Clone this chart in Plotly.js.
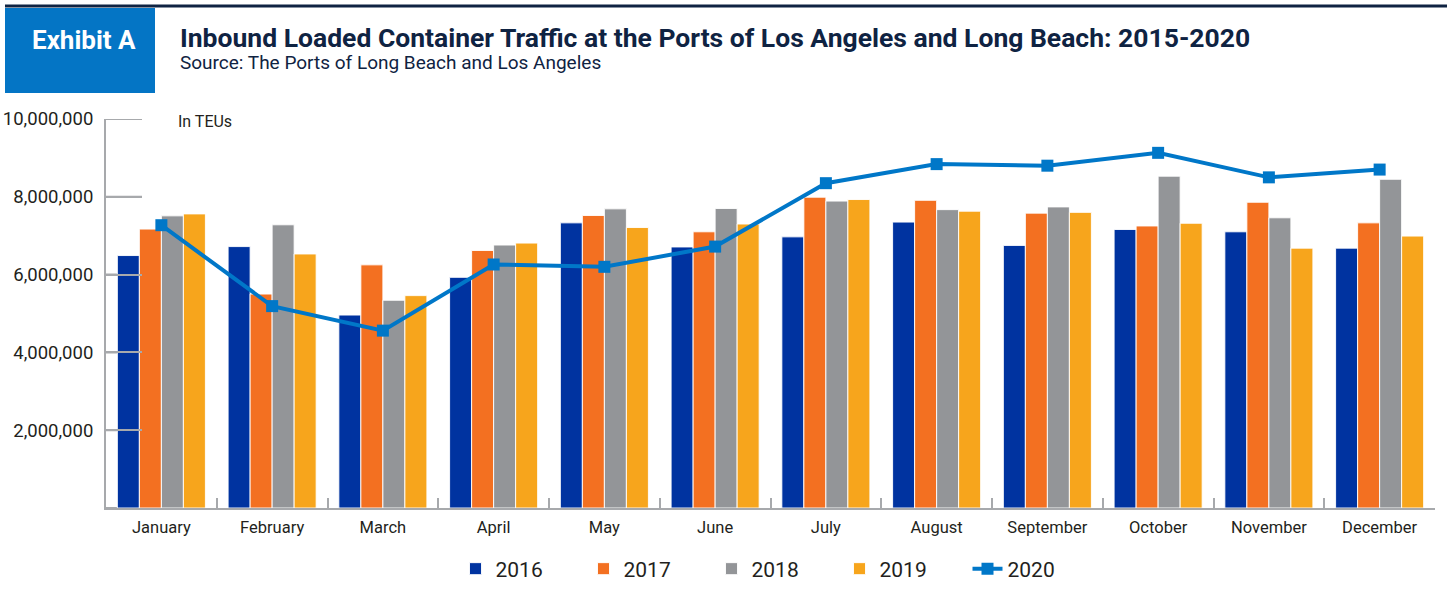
<!DOCTYPE html>
<html>
<head>
<meta charset="utf-8">
<script src="https://cdn.plot.ly/plotly-3.0.1.min.js"></script>
<style>html,body{margin:0;padding:0;background:#fff;}#chart{width:1447px;height:593px;}</style>
</head>
<body>
<div id="chart"></div>
<script>
const months = ["January","February","March","April","May","June","July","August","September","October","November","December"];
const y2016 = [6490000,6720000,4960000,5930000,7330000,6710000,6970000,7350000,6750000,7160000,7100000,6680000];
const y2017 = [7170000,5500000,6250000,6620000,7520000,7100000,7990000,7910000,7580000,7250000,7860000,7330000];
const y2018 = [7510000,7280000,5340000,6760000,7690000,7700000,7890000,7670000,7740000,8530000,7460000,8450000];
const y2019 = [7560000,6530000,5460000,6810000,7210000,7300000,7930000,7630000,7600000,7320000,6680000,6990000];
const y2020 = [7270000,5190000,4560000,6260000,6200000,6720000,8350000,8840000,8800000,9130000,8500000,8700000];
const yTickVals = [0,2000000,4000000,6000000,8000000,10000000];
const yTickText = ["","2,000,000","4,000,000","6,000,000","8,000,000","10,000,000"];

const L = 106, R = 12, T = 119, B = 85, W = 1447, H = 593;
const pw = W - L - R, ph = H - T - B;
const px = x => (x - L) / pw;
const py = y => (H - B - y) / ph;

const FONT = "Roboto, 'Liberation Sans', sans-serif";
const AXIS = "#a7a9ac";
const barLine = {color: "rgba(255,255,255,0.9)", width: 1};
function bar(name, vals, color) {
  return {type: "bar", name: name, x: months, y: vals,
    marker: {color: color, line: barLine}, hoverinfo: "x+y+name"};
}
const traces = [
  bar("2016", y2016, "#0033a0"),
  bar("2017", y2017, "#f37021"),
  bar("2018", y2018, "#939598"),
  bar("2019", y2019, "#f7a51c"),
  {type: "scatter", mode: "lines+markers", name: "2020", x: months, y: y2020,
    line: {color: "#0077c8", width: 4}, marker: {symbol: "square", size: 12, color: "#0077c8"}}
];

// y-axis inside tick marks (drawn at the tick values, on the data scale)
const tickShapes = yTickVals.map(v => ({type: "line", xref: "paper", yref: "y",
  x0: 0, x1: 36 / pw, y0: v, y1: v, line: {color: AXIS, width: 2}, layer: "below"}));

const layout = {
  width: W, height: H,
  margin: {l: L, r: R, t: T, b: B, autoexpand: false},
  paper_bgcolor: "#fff", plot_bgcolor: "#fff",
  font: {family: FONT, color: "#231f20"},
  barmode: "group", bargap: 0.205, bargroupgap: 0,
  showlegend: true,
  title: {text: "<b>Inbound Loaded Container Traffic at the Ports of Los Angeles and Long Beach: 2015-2020</b>",
    font: {family: FONT, size: 26.5, color: "#0f2342"},
    xref: "container", yref: "container", x: 180 / W, xanchor: "left", y: 1 - 38 / H, yanchor: "middle"},
  xaxis: {
    type: "category", range: [-0.5, 11.5], autorange: false,
    showgrid: false, zeroline: false, automargin: false,
    showline: true, linecolor: AXIS, linewidth: 2,
    ticks: "inside", tickson: "boundaries", ticklen: 10, tickwidth: 2, tickcolor: AXIS,
    tickfont: {family: FONT, size: 16.5, color: "#231f20"}, ticklabelstandoff: 3,
    fixedrange: true
  },
  yaxis: {
    range: [0, 10000000], autorange: false, showgrid: false, zeroline: false, automargin: false,
    showline: true, linecolor: AXIS, linewidth: 2,
    ticks: "inside", ticklen: 36, tickwidth: 2, tickcolor: AXIS,
    tickvals: yTickVals, ticktext: yTickText, ticklabelstandoff: 7,
    tickfont: {family: FONT, size: 18.5, color: "#231f20"},
    fixedrange: true
  },
  legend: {orientation: "h", x: 0.5 + 5 / pw, xanchor: "center", y: py(569), yanchor: "middle",
    font: {family: FONT, size: 21, color: "#231f20"}, entrywidth: 83, entrywidthmode: "pixels",
    traceorder: "normal"},
  shapes: [
    {type: "rect", xref: "paper", yref: "paper", x0: px(5), x1: px(155), y0: py(93), y1: py(8),
      fillcolor: "#0475c5", line: {width: 0}, layer: "above"},
    {type: "line", xref: "paper", yref: "paper", x0: px(5), x1: px(1447), y0: py(6), y1: py(6),
      line: {color: "#0f2342", width: 3}}
  ].concat(tickShapes),
  annotations: [
    {text: "<b>Exhibit A</b>", xref: "paper", yref: "paper", x: px(84), y: py(40), xanchor: "center", yanchor: "middle",
      showarrow: false, font: {family: FONT, size: 26, color: "#ffffff"}},
    {text: "Source: The Ports of Long Beach and Los Angeles", xref: "paper", yref: "paper", x: px(178), y: py(63),
      xanchor: "left", yanchor: "middle", showarrow: false, font: {family: FONT, size: 19, color: "#0f2342"}},
    {text: "In TEUs", xref: "paper", yref: "paper", x: px(176), y: py(121), xanchor: "left", yanchor: "middle",
      showarrow: false, font: {family: FONT, size: 16, color: "#231f20"}}
  ]
};
Plotly.newPlot("chart", traces, layout, {displayModeBar: false});
</script>
</body>
</html>
